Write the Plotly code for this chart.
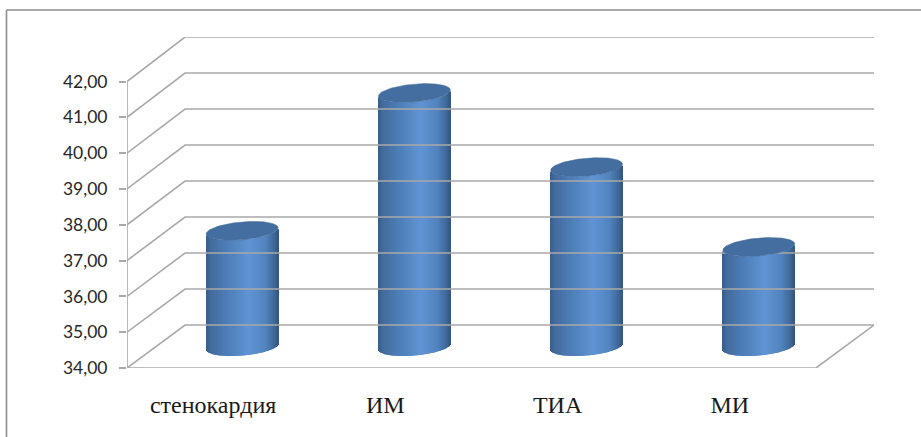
import numpy as np
import plotly.graph_objects as go

categories = ["стенокардия", "ИМ", "ТИА", "МИ"]
values = [37.23, 41.08, 39.01, 36.78]
y_ticks = [34, 35, 36, 37, 38, 39, 40, 41, 42]

# oblique depth of the 3D box, in axis units
DX, DY = 0.337, 1.2
BACK = 1.0056                     # slight perspective of the back wall
A, B, TILT = 0.209, 0.25, 0.085   # cylinder semi-axes / tilt, in axis units
GRID = "#a9a9a9"
N = 72

stops_u = [-1, -0.85, -0.4, 0.2, 0.65, 0.9, 1]
stops_c = [(56, 94, 140), (68, 108, 158), (78, 127, 184), (96, 148, 212),
           (82, 132, 190), (64, 104, 152), (52, 86, 128)]

def shade(u):
    return "rgb(%d,%d,%d)" % tuple(int(np.interp(u, stops_u, [c[i] for c in stops_c])) for i in range(3))

fig = go.Figure()
x0, x1 = -0.5, len(categories) - 0.5
b0 = y_ticks[0]
y_top = b0 + DY + (y_ticks[-1] - b0) * BACK

def line(xs, ys):
    fig.add_trace(go.Scatter(x=xs, y=ys, mode="lines", hoverinfo="skip",
                             line=dict(color=GRID, width=1.6), showlegend=False))

for v in y_ticks[1:]:
    back_y = b0 + DY + (v - b0) * BACK
    line([x0, x0 + DX, x1 + DX], [v, back_y, back_y])
# floor and axis lines
line([x0, x0 + DX, x1 + DX, x1, x0], [b0, b0 + DY, b0 + DY, b0, b0])
line([x0, x0], [y_ticks[0], y_ticks[-1]])

u = (np.arange(N) + 0.5) / N * 2 - 1
t = np.linspace(0, 2 * np.pi, 121)
for i, v in enumerate(values):
    cx = i + DX / 2
    base_c = b0 + DY / 2
    top_c = v + DY / 2
    front = TILT * u - B * np.sqrt(1 - u ** 2)
    fig.add_trace(go.Bar(x=cx + A * u, y=np.full(N, top_c - base_c), base=base_c + front,
                         width=2 * A / N * 1.15, marker=dict(color=[shade(w) for w in u], line=dict(width=0)),
                         hoverinfo="skip", showlegend=False))
    fig.add_trace(go.Scatter(x=cx + A * np.cos(t), y=top_c + TILT * np.cos(t) + B * np.sin(t),
                             mode="lines", fill="toself", fillcolor="#446e9f",
                             line=dict(color="#446e9f", width=0.5), hoverinfo="skip", showlegend=False))

fig.update_layout(
    width=921, height=437, margin=dict(l=127, r=47, t=37, b=69),
    paper_bgcolor="white", plot_bgcolor="white", barmode="overlay", showlegend=False,
    separators=", ",
    xaxis=dict(range=[x0, x1 + DX], tickvals=list(range(len(categories))), ticktext=categories,
               showgrid=False, zeroline=False, showline=False, ticks="", ticklabelstandoff=20,
               tickfont=dict(family="Liberation Serif", size=24, color="#1a1a1a")),
    xaxis2=dict(range=[x0, x1 + DX], overlaying="x", anchor="y", side="bottom",
                tickvals=[x0 + k for k in range(len(categories) + 1)],
                ticktext=[""] * (len(categories) + 1), ticks="outside", ticklen=9, tickwidth=1.5,
                tickcolor=GRID, showgrid=False, zeroline=False, showline=False),
    yaxis=dict(range=[b0, y_top], tickvals=y_ticks, tickformat=".2f", ticks="outside",
               ticklen=7, tickwidth=1.5, tickcolor=GRID, ticklabelstandoff=8, showgrid=False,
               zeroline=False, showline=False,
               tickfont=dict(family="Lato", size=17.5, color="#262626")),
    shapes=[dict(type="line", xref="paper", yref="paper",
                 x0=-120.5 / 747, x1=-120.5 / 747, y0=-69 / 331, y1=1 + 27 / 331,
                 line=dict(color="#8c8c8c", width=1.6), layer="below"),
            dict(type="line", xref="paper", yref="paper",
                 x0=-120.5 / 747, x1=1 + 47 / 747, y0=1 + 27 / 331, y1=1 + 27 / 331,
                 line=dict(color="#8c8c8c", width=1.6), layer="below")],
)
fig.write_html("out.html", config={"displayModeBar": False},
               post_script="document.body.style.margin='0';document.body.style.overflow='hidden';")
